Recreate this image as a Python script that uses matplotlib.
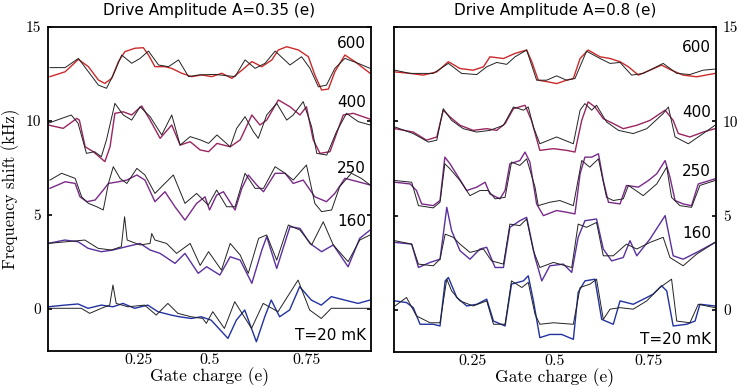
import matplotlib
matplotlib.use('Agg')
import matplotlib.pyplot as plt

# ---- left panel, A=0.35 ----
# measured (colored) and theory (black) traces, gate charge vs frequency shift
L600_x = [0.006, 0.053, 0.094, 0.125, 0.156, 0.176, 0.197, 0.218, 0.238, 0.269, 0.295, 0.311, 0.331, 0.362, 0.383, 0.414, 0.445, 0.476, 0.507, 0.538, 0.569, 0.600, 0.631, 0.662, 0.693, 0.713, 0.739, 0.775, 0.806, 0.826, 0.847, 0.868, 0.888, 0.919, 0.950, 0.997]
L600_y = [12.36, 12.62, 13.28, 12.89, 12.18, 12.0, 12.27, 13.16, 13.69, 13.87, 13.9, 13.51, 12.89, 12.89, 12.8, 12.54, 12.36, 12.45, 12.36, 12.54, 12.27, 12.7, 13.16, 12.89, 13.25, 13.78, 13.95, 13.78, 13.42, 12.45, 11.65, 11.7, 12.62, 13.51, 13.16, 12.54]
L600_tx = [0.006, 0.053, 0.094, 0.125, 0.156, 0.181, 0.202, 0.228, 0.259, 0.285, 0.311, 0.342, 0.373, 0.404, 0.435, 0.466, 0.517, 0.579, 0.610, 0.641, 0.672, 0.703, 0.749, 0.785, 0.811, 0.837, 0.862, 0.888, 0.919, 0.960, 0.997]
L600_ty = [12.84, 12.84, 13.33, 12.62, 11.91, 11.74, 12.45, 13.51, 13.07, 13.33, 13.72, 12.98, 12.89, 13.25, 12.36, 12.45, 12.48, 12.36, 13.25, 12.8, 13.07, 13.72, 12.98, 13.42, 12.8, 11.82, 11.91, 12.8, 13.33, 13.07, 12.8]

L400_x = [0.0, 0.047, 0.089, 0.097, 0.115, 0.140, 0.176, 0.192, 0.207, 0.233, 0.259, 0.290, 0.316, 0.347, 0.383, 0.409, 0.440, 0.471, 0.497, 0.523, 0.564, 0.595, 0.631, 0.656, 0.677, 0.713, 0.749, 0.780, 0.800, 0.821, 0.842, 0.873, 0.914, 0.945, 0.997]
L400_y = [9.79, 9.61, 10.14, 10.05, 8.63, 8.37, 7.84, 8.63, 10.41, 10.49, 10.32, 10.8, 10.05, 9.08, 9.79, 8.72, 8.9, 8.46, 8.37, 8.81, 8.63, 9.0, 10.32, 9.79, 10.05, 11.12, 10.76, 10.32, 10.76, 9.0, 8.28, 8.37, 10.32, 10.41, 10.1]
L400_tx = [0.0, 0.072, 0.093, 0.119, 0.144, 0.165, 0.181, 0.207, 0.233, 0.259, 0.285, 0.316, 0.352, 0.383, 0.409, 0.440, 0.471, 0.497, 0.523, 0.564, 0.584, 0.610, 0.636, 0.651, 0.677, 0.708, 0.739, 0.759, 0.790, 0.816, 0.832, 0.863, 0.893, 0.924, 0.960, 0.997]
L400_ty = [9.88, 10.32, 9.88, 8.28, 8.37, 8.1, 9.0, 10.94, 10.32, 10.05, 10.76, 10.23, 9.26, 10.32, 8.72, 9.17, 9.0, 8.81, 9.26, 8.63, 9.61, 10.23, 9.43, 9.08, 10.32, 10.94, 10.05, 10.32, 11.03, 9.7, 8.28, 8.19, 9.43, 10.41, 9.97, 9.79]

L250_x = [0.006, 0.053, 0.084, 0.099, 0.120, 0.146, 0.171, 0.187, 0.218, 0.244, 0.275, 0.300, 0.331, 0.362, 0.393, 0.424, 0.460, 0.486, 0.500, 0.522, 0.543, 0.579, 0.600, 0.620, 0.646, 0.667, 0.703, 0.734, 0.759, 0.790, 0.826, 0.862, 0.888, 0.919, 0.960, 0.997]
L250_y = [6.42, 6.77, 6.68, 5.97, 5.71, 5.8, 6.33, 6.68, 6.77, 6.86, 7.13, 6.86, 5.71, 6.24, 5.44, 4.73, 5.62, 5.97, 5.27, 6.06, 6.24, 5.27, 6.42, 7.13, 6.6, 6.24, 7.22, 7.22, 6.68, 6.86, 5.97, 5.71, 6.15, 6.95, 6.77, 6.6]
L250_tx = [0.006, 0.042, 0.084, 0.104, 0.125, 0.151, 0.171, 0.187, 0.202, 0.223, 0.244, 0.275, 0.300, 0.331, 0.357, 0.388, 0.424, 0.460, 0.496, 0.522, 0.553, 0.579, 0.610, 0.641, 0.667, 0.703, 0.734, 0.759, 0.800, 0.826, 0.847, 0.878, 0.903, 0.939, 0.970, 0.997]
L250_ty = [6.86, 7.22, 6.95, 5.97, 5.62, 5.44, 5.27, 6.68, 7.57, 6.95, 6.68, 7.48, 7.13, 6.15, 6.6, 7.13, 5.62, 6.15, 5.53, 6.33, 5.44, 5.44, 7.22, 6.42, 6.42, 7.57, 7.22, 6.86, 7.66, 5.62, 5.18, 5.27, 6.51, 7.22, 6.95, 6.6]

L160_x = [0.0, 0.052, 0.093, 0.124, 0.165, 0.201, 0.243, 0.285, 0.316, 0.347, 0.393, 0.424, 0.465, 0.491, 0.532, 0.564, 0.595, 0.631, 0.662, 0.677, 0.708, 0.749, 0.780, 0.811, 0.847, 0.883, 0.929, 0.965, 0.997]
L160_y = [3.49, 3.67, 3.58, 3.23, 3.05, 3.14, 3.32, 3.49, 3.14, 2.96, 2.43, 2.96, 1.9, 2.25, 1.81, 2.78, 2.6, 1.37, 3.14, 3.85, 2.16, 4.38, 4.29, 3.49, 3.05, 3.41, 2.25, 3.76, 4.2]
L160_tx = [0.0, 0.114, 0.155, 0.196, 0.227, 0.237, 0.245, 0.285, 0.316, 0.321, 0.331, 0.367, 0.398, 0.440, 0.471, 0.497, 0.537, 0.564, 0.595, 0.620, 0.652, 0.677, 0.708, 0.744, 0.780, 0.816, 0.852, 0.883, 0.929, 0.965, 0.997]
L160_ty = [3.49, 3.67, 3.23, 3.14, 3.32, 4.91, 3.67, 3.41, 3.49, 4.02, 3.67, 3.49, 2.96, 3.49, 2.32, 3.05, 2.07, 3.49, 2.87, 1.9, 3.76, 3.94, 2.6, 4.47, 4.2, 3.41, 4.64, 3.41, 2.52, 3.67, 3.94]

L20_x = [0.0, 0.052, 0.093, 0.124, 0.165, 0.201, 0.232, 0.268, 0.309, 0.340, 0.381, 0.407, 0.443, 0.474, 0.505, 0.557, 0.583, 0.609, 0.645, 0.671, 0.691, 0.717, 0.748, 0.779, 0.815, 0.846, 0.877, 0.918, 0.960, 0.997]
L20_y = [0.12, 0.21, 0.27, 0.04, 0.21, 0.12, 0.3, 0.04, 0.21, -0.14, -0.32, -0.41, -0.5, -0.41, -0.59, -1.56, -0.59, -0.05, -1.74, -0.41, 0.48, -0.41, -0.05, 1.19, 0.48, 0.21, 0.66, 0.48, 0.3, 0.48]
L20_tx = [0.0, 0.103, 0.129, 0.165, 0.191, 0.201, 0.211, 0.247, 0.299, 0.335, 0.371, 0.402, 0.443, 0.479, 0.490, 0.510, 0.546, 0.578, 0.630, 0.666, 0.712, 0.774, 0.810, 0.846, 0.877, 0.997]
L20_ty = [0.04, 0.04, -0.23, 0.04, 0.21, 1.28, 0.3, 0.12, 0.21, -0.32, 0.3, -0.23, -0.41, -0.5, -0.76, -0.14, -1.03, 0.39, -1.03, 0.3, -0.14, 1.54, -0.05, -0.5, 0.04, 0.04]

# ---- right panel, A=0.8 ----
R600_x = [0.003, 0.050, 0.091, 0.133, 0.169, 0.205, 0.246, 0.278, 0.298, 0.340, 0.376, 0.412, 0.428, 0.448, 0.479, 0.505, 0.536, 0.557, 0.578, 0.603, 0.640, 0.671, 0.702, 0.728, 0.759, 0.795, 0.831, 0.862, 0.898, 0.940, 0.997]
R600_y = [12.62, 12.54, 12.45, 12.62, 13.16, 12.8, 12.71, 12.89, 13.42, 13.33, 13.6, 13.78, 13.16, 12.18, 12.09, 12.0, 12.18, 12.27, 13.33, 13.78, 13.42, 13.33, 13.16, 12.89, 12.45, 12.71, 12.98, 12.71, 12.45, 12.36, 12.54]
R600_tx = [0.003, 0.050, 0.122, 0.169, 0.210, 0.257, 0.288, 0.319, 0.350, 0.376, 0.412, 0.443, 0.474, 0.505, 0.536, 0.562, 0.598, 0.640, 0.671, 0.702, 0.738, 0.774, 0.836, 0.878, 0.919, 0.960, 0.997]
R600_ty = [12.71, 12.54, 12.54, 13.07, 12.54, 12.48, 12.89, 13.12, 13.02, 13.42, 13.78, 12.18, 12.18, 12.41, 12.18, 12.27, 13.72, 13.33, 13.07, 13.12, 12.45, 12.54, 13.07, 12.54, 12.48, 12.71, 12.77]

R400_x = [0.003, 0.060, 0.101, 0.133, 0.153, 0.174, 0.205, 0.246, 0.288, 0.319, 0.345, 0.371, 0.407, 0.427, 0.453, 0.495, 0.536, 0.562, 0.583, 0.603, 0.624, 0.650, 0.681, 0.712, 0.754, 0.795, 0.842, 0.867, 0.883, 0.919, 0.960, 0.997]
R400_y = [9.61, 9.43, 9.0, 9.17, 10.59, 10.23, 9.79, 9.52, 9.61, 9.52, 9.88, 10.67, 10.85, 10.05, 8.46, 8.55, 8.46, 8.37, 10.05, 11.03, 10.76, 10.14, 9.88, 9.61, 9.79, 10.05, 10.59, 10.05, 9.35, 9.17, 9.43, 9.61]
R400_tx = [0.003, 0.060, 0.107, 0.133, 0.153, 0.179, 0.215, 0.257, 0.298, 0.340, 0.371, 0.402, 0.417, 0.433, 0.453, 0.505, 0.557, 0.578, 0.593, 0.614, 0.629, 0.660, 0.697, 0.743, 0.785, 0.836, 0.852, 0.873, 0.914, 0.960, 0.997]
R400_ty = [9.7, 9.35, 8.9, 9.0, 10.67, 10.05, 9.61, 9.43, 9.52, 9.79, 10.76, 10.59, 10.76, 9.7, 8.81, 9.17, 8.81, 10.59, 10.94, 10.59, 10.85, 9.97, 9.52, 9.35, 9.61, 10.41, 10.76, 9.17, 8.81, 9.35, 9.79]

R250_x = [0.003, 0.050, 0.070, 0.086, 0.122, 0.143, 0.158, 0.174, 0.200, 0.226, 0.257, 0.283, 0.298, 0.329, 0.345, 0.360, 0.391, 0.407, 0.422, 0.443, 0.464, 0.505, 0.536, 0.562, 0.578, 0.593, 0.614, 0.635, 0.650, 0.666, 0.702, 0.722, 0.759, 0.790, 0.816, 0.842, 0.857, 0.873, 0.898, 0.924, 0.945, 0.997]
R250_y = [6.77, 6.68, 6.33, 5.62, 5.53, 5.8, 8.1, 7.75, 7.04, 6.33, 6.51, 6.77, 6.15, 5.89, 6.33, 7.75, 7.92, 8.37, 7.84, 5.62, 5.0, 5.27, 5.18, 5.09, 7.22, 8.1, 8.1, 8.28, 6.86, 5.71, 5.62, 6.6, 6.51, 6.86, 7.22, 7.92, 7.04, 5.8, 5.62, 5.53, 6.68, 6.95]
R250_tx = [0.003, 0.055, 0.076, 0.122, 0.143, 0.158, 0.174, 0.205, 0.236, 0.267, 0.293, 0.314, 0.345, 0.365, 0.391, 0.412, 0.438, 0.448, 0.484, 0.515, 0.557, 0.583, 0.608, 0.635, 0.660, 0.681, 0.712, 0.728, 0.774, 0.816, 0.847, 0.862, 0.888, 0.924, 0.950, 0.997]
R250_ty = [6.86, 6.77, 5.53, 5.41, 5.71, 7.75, 7.48, 6.86, 6.06, 6.33, 6.33, 5.89, 5.97, 7.84, 7.66, 8.01, 6.51, 5.53, 5.71, 5.8, 5.53, 7.92, 7.57, 8.01, 5.97, 5.8, 5.89, 6.6, 6.06, 6.68, 7.57, 5.97, 5.53, 5.44, 6.6, 6.86]

R160_x = [0.003, 0.055, 0.076, 0.112, 0.143, 0.164, 0.179, 0.205, 0.236, 0.267, 0.288, 0.314, 0.340, 0.360, 0.391, 0.412, 0.438, 0.459, 0.484, 0.526, 0.552, 0.572, 0.593, 0.629, 0.650, 0.676, 0.712, 0.733, 0.754, 0.795, 0.842, 0.867, 0.898, 0.940, 0.997]
R160_y = [3.58, 3.49, 2.25, 2.52, 2.69, 5.44, 4.2, 3.14, 2.69, 3.23, 3.32, 2.25, 2.25, 4.38, 4.73, 4.91, 2.78, 1.54, 2.34, 2.43, 1.99, 3.85, 4.73, 4.82, 3.23, 2.6, 2.78, 3.67, 2.87, 3.76, 5.0, 2.87, 2.69, 3.05, 3.58]
R160_tx = [0.003, 0.055, 0.076, 0.122, 0.143, 0.159, 0.184, 0.205, 0.236, 0.278, 0.303, 0.340, 0.360, 0.391, 0.412, 0.433, 0.453, 0.495, 0.552, 0.572, 0.598, 0.629, 0.650, 0.681, 0.722, 0.754, 0.795, 0.836, 0.857, 0.898, 0.940, 0.997]
R160_ty = [3.67, 3.49, 2.43, 2.34, 2.69, 4.02, 3.85, 3.49, 3.05, 3.23, 2.6, 2.43, 4.55, 4.47, 4.82, 3.14, 2.25, 2.52, 2.25, 4.55, 4.38, 4.64, 2.87, 2.87, 3.49, 3.23, 3.58, 3.85, 2.78, 2.34, 2.96, 3.58]

R20_x = [0.003, 0.039, 0.060, 0.081, 0.122, 0.143, 0.159, 0.169, 0.195, 0.226, 0.257, 0.288, 0.309, 0.345, 0.365, 0.402, 0.417, 0.433, 0.453, 0.484, 0.521, 0.557, 0.572, 0.593, 0.624, 0.645, 0.681, 0.702, 0.743, 0.785, 0.805, 0.831, 0.847, 0.867, 0.909, 0.935, 0.950, 0.997]
R20_y = [0.48, 0.39, 0.12, -0.76, -0.76, -0.85, 1.54, 1.72, 0.66, 0.21, 0.3, 0.57, -0.59, -0.85, 1.37, 1.54, 1.81, 0.48, -1.47, -1.3, -1.3, -1.56, 0.93, 1.54, 1.63, -0.5, -0.76, 0.48, 0.3, 0.66, 0.84, 1.28, 1.01, -0.85, -0.76, -0.59, 0.3, 0.21]
R20_tx = [0.003, 0.039, 0.070, 0.112, 0.143, 0.164, 0.179, 0.205, 0.246, 0.288, 0.309, 0.345, 0.365, 0.397, 0.417, 0.438, 0.453, 0.495, 0.557, 0.578, 0.609, 0.629, 0.650, 0.671, 0.702, 0.743, 0.785, 0.826, 0.862, 0.878, 0.919, 0.945, 0.997]
R20_ty = [0.21, 0.66, -0.32, -0.68, -0.68, 1.63, 1.01, 0.48, 0.21, 0.48, -0.76, -0.76, 1.54, 1.19, 1.46, -0.23, -0.76, -0.68, -0.76, 1.19, 1.37, 1.63, -0.5, 0.04, 0.12, 0.04, 0.48, 1.19, 1.63, -0.59, -0.68, 0.3, 0.12]

freq_labels = ['600', '400', '250', '160', 'T=20 mK']
label_y = [14.1, 10.96, 7.45, 4.63, -1.38]
label_y_right = [13.9, 10.45, 7.34, 4.07, -1.57]
colors = ['#cc2a2a', '#9a2560', '#7a2a88', '#5a30a0', '#2232a0']
titles = ['Drive Amplitude A=0.35 (e)', 'Drive Amplitude A=0.8 (e)']
xtick_labels = ['0.25', '0.5', '0.75']
xtick_pos_left = [0.28, 0.5, 0.8]
xtick_pos_right = [0.245, 0.5, 0.79]

left = [(L600_x, L600_y, L600_tx, L600_ty), (L400_x, L400_y, L400_tx, L400_ty),
        (L250_x, L250_y, L250_tx, L250_ty), (L160_x, L160_y, L160_tx, L160_ty),
        (L20_x, L20_y, L20_tx, L20_ty)]
right = [(R600_x, R600_y, R600_tx, R600_ty), (R400_x, R400_y, R400_tx, R400_ty),
         (R250_x, R250_y, R250_tx, R250_ty), (R160_x, R160_y, R160_tx, R160_ty),
         (R20_x, R20_y, R20_tx, R20_ty)]

serif = 'cmr10'

fig = plt.figure(figsize=(7.47, 3.88), dpi=100)
axL = fig.add_axes([0.0643, 0.0954, 0.4324, 0.835])
axR = fig.add_axes([0.5274, 0.0928, 0.4311, 0.8376])

for ax, traces, title, xpos, ly in [(axL, left, titles[0], xtick_pos_left, label_y),
                                    (axR, right, titles[1], xtick_pos_right, label_y_right)]:
  for (x, y, tx, ty), c in zip(traces, colors):
    ax.plot(x, y, color=c, lw=1.0)
    ax.plot(tx, ty, color='#222222', lw=0.7)
  ax.set_xlim(0, 1)
  ax.set_ylim(-2.23, 15)
  ax.set_yticks([0, 5, 10, 15])
  ax.set_yticklabels(['0', '5', '10', '15'], fontfamily=serif, fontsize=11)
  ax.set_xticks(xpos)
  ax.set_xticklabels(xtick_labels, fontfamily=serif, fontsize=11.5)
  ax.set_xticks([0.5], minor=True)
  ax.tick_params(axis='x', which='major', length=0, pad=2)
  ax.tick_params(axis='x', which='minor', direction='in', length=3, width=1.2,
                 top=True, bottom=True)
  ax.tick_params(axis='y', direction='in', length=3, width=1.2, left=True, right=True, pad=5)
  for s in ax.spines.values():
    s.set_linewidth(1.3)
  ax.set_xlabel('Gate charge (e)', fontfamily=serif, fontsize=12.5, labelpad=0)
  ax.set_title(title, fontsize=11, pad=9)
  for lab, yy in zip(freq_labels, ly):
    ax.text(0.985, yy, lab, ha='right', va='center', fontsize=11)

axL.set_ylabel('Frequency shift (kHz)', fontfamily=serif, fontsize=12, labelpad=4)
axR.tick_params(axis='y', labelleft=False, labelright=True)

fig.savefig('out.png', dpi=100)
